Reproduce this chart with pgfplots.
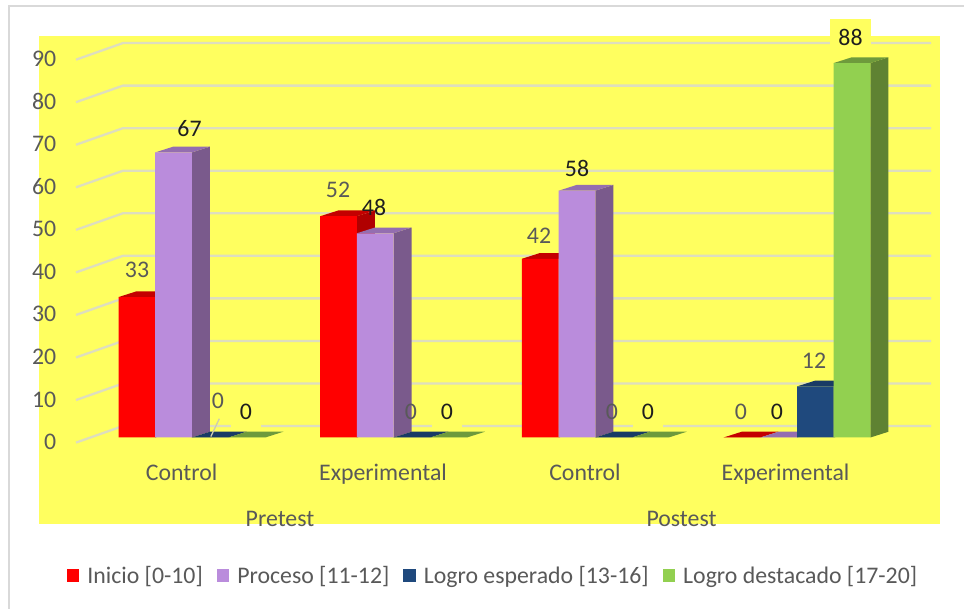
\documentclass[border=0pt]{standalone}
\usepackage{fontspec}
\usepackage{pgfplots}
\pgfplotsset{compat=1.18}
\setmainfont{Carlito}
\definecolor{yel}{RGB}{255,255,95}
\definecolor{gridc}{RGB}{222,222,190}
\definecolor{framec}{RGB}{217,217,217}
\definecolor{txt}{RGB}{89,89,89}
\definecolor{blk}{RGB}{30,30,30}
\definecolor{redF}{RGB}{255,0,0}\definecolor{redS}{RGB}{176,0,0}\definecolor{redT}{RGB}{196,0,0}
\definecolor{purF}{RGB}{186,140,220}\definecolor{purS}{RGB}{122,90,140}\definecolor{purT}{RGB}{148,110,176}
\definecolor{navF}{RGB}{31,73,125}\definecolor{navS}{RGB}{22,52,90}\definecolor{navT}{RGB}{25,59,101}
\definecolor{greF}{RGB}{146,208,80}\definecolor{greS}{RGB}{95,130,50}\definecolor{greT}{RGB}{110,154,60}
\newcommand{\chfont}{\fontsize{23.8}{26}\selectfont}
\tikzset{
  lab/.style={font=\chfont,text=txt,inner sep=0pt},
  labk/.style={font=\chfont,text=blk,inner sep=0pt},
  labg/.style={font=\chfont,text=blk,fill=yel,inner xsep=8.5pt,inner ysep=0pt,minimum height=37pt},
}
\begin{document}
\begin{tikzpicture}[x=1pt,y=1pt]
\fill[white] (0,0) rectangle (964,609);
\path[use as bounding box] (0,0) rectangle (964,609);
\begin{axis}[
  at={(76pt,171.5pt)}, anchor=south west,
  scale only axis, width=855pt, height=382.95pt,
  xmin=76, xmax=931, ymin=0, ymax=90,
  clip=false,
  axis on top,
  axis line style={draw=none},
  tick style={draw=none},
  major tick length=0pt,
  ytick={0,10,20,30,40,50,60,70,80,90},
  xtick={181.7,383,585,785.5},
  xticklabels={Control,Experimental,Control,Experimental},
  /pgf/number format/assume math mode=true,
  yticklabel style={font=\chfont,text=txt,anchor=east,inner sep=0pt,xshift=-19.5pt,yshift=-4.5pt},
  xticklabel style={font=\chfont,text=txt,anchor=base,inner sep=0pt,yshift=-43.2pt},
  legend columns=4,
  legend cell align=left,
  legend style={draw=none,fill=none,font=\chfont,text=txt,at={(axis cs:493,-32.5)},anchor=center,
    /tikz/every even column/.append style={column sep=12pt},
    /tikz/every odd column/.append style={column sep=6pt}},
  face/.style={draw=none,fill=#1,forget plot,mark=none},
  front/.style={ybar,bar width=36.7pt,bar shift=0pt,draw=none,fill=#1,
     legend image code/.code={\fill[#1] (0pt,-6pt) rectangle (12.5pt,6.5pt);}},
  gl/.style={draw=gridc,line width=2.3pt,forget plot,mark=none},
]
% frame and plot area
\addplot[draw=framec,line width=2.5pt,forget plot,mark=none] coordinates {(9,-40.3) (9,101.4) (964,101.4)};
\addplot[face=yel] coordinates {(39,94.36) (940,94.36) (940,-20.4) (39,-20.4)} --cycle;
% gridlines
\addplot[gl] coordinates {(76,-1.2) (123,2.7) (931,2.7)};
\addplot[gl] coordinates {(76,8.8) (123,12.7) (931,12.7)};
\addplot[gl] coordinates {(76,18.8) (123,22.7) (931,22.7)};
\addplot[gl] coordinates {(76,28.8) (123,32.7) (931,32.7)};
\addplot[gl] coordinates {(76,38.8) (123,42.7) (931,42.7)};
\addplot[gl] coordinates {(76,48.8) (123,52.7) (931,52.7)};
\addplot[gl] coordinates {(76,58.8) (123,62.7) (931,62.7)};
\addplot[gl] coordinates {(76,68.8) (123,72.7) (931,72.7)};
\addplot[gl] coordinates {(76,78.8) (123,82.7) (931,82.7)};
\addplot[gl] coordinates {(76,88.8) (123,92.7) (931,92.7)};
% Inicio
\addplot[face=redS] coordinates {(155.2,0) (173.2,1.35) (173.2,34.35) (155.2,33)} --cycle;
\addplot[face=redT] coordinates {(118.5,33) (136.5,34.35) (173.2,34.35) (155.2,33)} --cycle;
\addplot[face=redS] coordinates {(356.9,0) (374.9,1.35) (374.9,53.35) (356.9,52)} --cycle;
\addplot[face=redT] coordinates {(320.2,52) (338.2,53.35) (374.9,53.35) (356.9,52)} --cycle;
\addplot[face=redS] coordinates {(558.6,0) (576.6,1.35) (576.6,43.35) (558.6,42)} --cycle;
\addplot[face=redT] coordinates {(521.9,42) (539.9,43.35) (576.6,43.35) (558.6,42)} --cycle;
\addplot[face=redT] coordinates {(723.6,0) (741.6,1.35) (778.3,1.35) (760.3,0)} --cycle;
\addplot[front=redF] coordinates {(136.85,33) (338.55,52) (540.25,42) (741.95,0)};
\addlegendentry{Inicio [0-10]}
% Proceso
\addplot[face=purS] coordinates {(191.9,0) (209.9,1.35) (209.9,68.35) (191.9,67)} --cycle;
\addplot[face=purT] coordinates {(155.2,67) (173.2,68.35) (209.9,68.35) (191.9,67)} --cycle;
\addplot[face=purS] coordinates {(393.6,0) (411.6,1.35) (411.6,49.35) (393.6,48)} --cycle;
\addplot[face=purT] coordinates {(356.9,48) (374.9,49.35) (411.6,49.35) (393.6,48)} --cycle;
\addplot[face=purS] coordinates {(595.3,0) (613.3,1.35) (613.3,59.35) (595.3,58)} --cycle;
\addplot[face=purT] coordinates {(558.6,58) (576.6,59.35) (613.3,59.35) (595.3,58)} --cycle;
\addplot[face=purT] coordinates {(760.3,0) (778.3,1.35) (815,1.35) (797,0)} --cycle;
\addplot[front=purF] coordinates {(173.55,67) (375.25,48) (576.95,58) (778.65,0)};
\addlegendentry{Proceso [11-12]}
% Logro esperado
\addplot[face=navT] coordinates {(191.9,0) (209.9,1.35) (246.6,1.35) (228.6,0)} --cycle;
\addplot[face=navT] coordinates {(393.6,0) (411.6,1.35) (448.3,1.35) (430.3,0)} --cycle;
\addplot[face=navT] coordinates {(595.3,0) (613.3,1.35) (650,1.35) (632,0)} --cycle;
\addplot[face=navS] coordinates {(833.7,0) (851.7,1.35) (851.7,13.35) (833.7,12)} --cycle;
\addplot[face=navT] coordinates {(797,12) (815,13.35) (851.7,13.35) (833.7,12)} --cycle;
\addplot[front=navF] coordinates {(210.25,0) (411.95,0) (613.65,0) (815.35,12)};
\addlegendentry{Logro esperado [13-16]}
% Logro destacado
\addplot[face=greT] coordinates {(228.6,0) (246.6,1.35) (283.3,1.35) (265.3,0)} --cycle;
\addplot[face=greT] coordinates {(430.3,0) (448.3,1.35) (485,1.35) (467,0)} --cycle;
\addplot[face=greT] coordinates {(632,0) (650,1.35) (686.7,1.35) (668.7,0)} --cycle;
\addplot[face=greS] coordinates {(870.4,0) (888.4,1.35) (888.4,89.35) (870.4,88)} --cycle;
\addplot[face=greT] coordinates {(833.7,88) (851.7,89.35) (888.4,89.35) (870.4,88)} --cycle;
\addplot[front=greF] coordinates {(246.95,0) (448.65,0) (650.35,0) (852.05,88)};
\addlegendentry{Logro destacado [17-20]}
% leader line
\addplot[draw=gridc!80!gray,line width=1.3pt,forget plot,mark=none] coordinates {(219.3,4.4) (210.8,0.2)};
% data labels
\node[lab]  at (axis cs:137,39.3) {33};
\node[labk] at (axis cs:189.5,72.5) {67};
\node[lab]  at (axis cs:218,8.6) {0};
\node[labg] at (axis cs:246,6) {0};
\node[lab]  at (axis cs:338,58.2) {52};
\node[labk] at (axis cs:374,54) {48};
\node[lab]  at (axis cs:411,6) {0};
\node[labg] at (axis cs:447,6) {0};
\node[lab]  at (axis cs:539,47.3) {42};
\node[labk] at (axis cs:577,63.3) {58};
\node[lab]  at (axis cs:612,6) {0};
\node[labg] at (axis cs:648,6) {0};
\node[lab]  at (axis cs:741,6) {0};
\node[labk] at (axis cs:777,6) {0};
\node[lab]  at (axis cs:814,18) {12};
\node[labg] at (axis cs:850.5,94) {88};
% group labels
\node[lab,anchor=base] at (axis cs:280,-20.96) {Pretest};
\node[lab,anchor=base] at (axis cs:681.5,-20.96) {Postest};
\end{axis}
\end{tikzpicture}
\end{document}
